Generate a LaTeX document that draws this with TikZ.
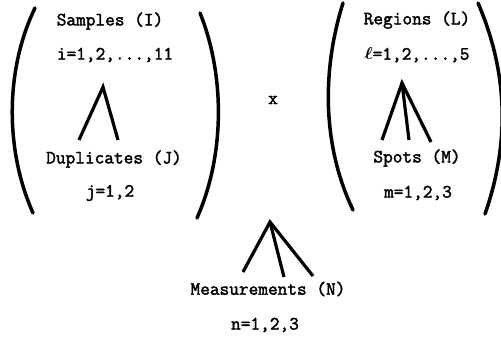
\documentclass[tikz,border=0pt]{standalone}
\usepackage{bm}
\usepackage{fontspec}
\setmonofont[FakeBold=2]{Latin Modern Mono}
\begin{document}
\begin{tikzpicture}[x=1pt,y=-1pt,
    lbl/.style={font=\ttfamily\fontsize{18.8}{22}\selectfont, inner sep=0pt},
    bracket/.style={line width=3.5pt, line cap=round},
    leg/.style={line width=3.2pt}]
  \useasboundingbox (0,0) rectangle (501,337);
  % Primer factor: muestras y duplicados.
  \draw[bracket] (35,8) .. controls (5,70) and (5,150) .. (33,213);
  \draw[bracket] (200,13) .. controls (225,75) and (225,155) .. (197,218);
  \node[lbl] (samples) at (110,21) {Samples (I)};
  \node[lbl] (sampidx) at (115,55) {i=1,2,...,11};
  \coordinate (sampapex) at (103,87);
  \coordinate (dupa) at (79,140);
  \coordinate (dupb) at (118,140);
  \draw[leg] (dupa) -- (sampapex) -- (dupb);
  \node[lbl] (duplicates) at (114,159) {Duplicates (J)};
  \node[lbl] (dupidx) at (110,193) {j=1,2};
  % El producto.
  \node[lbl] (times) at (273,100) {x};
  % Segundo factor: regiones y manchas.
  \draw[bracket] (343,3) .. controls (322,70) and (322,145) .. (353,210);
  \draw[bracket] (478,3) .. controls (509,75) and (509,145) .. (485,214);
  \node[lbl] (regions) at (417,20) {Regions (L)};
  \node[lbl] (regidx) at (417,55) {$\bm{\ell}$=1,2,...,5};
  \coordinate (regapex) at (402,83);
  \coordinate (spota) at (382,140);
  \coordinate (spotb) at (409,140);
  \coordinate (spotc) at (431,142);
  \draw[leg] (spota) -- (regapex) -- (spotc);
  \draw[leg] (regapex) -- (spotb);
  \node[lbl] (spots) at (417,158) {Spots (M)};
  \node[lbl] (spotidx) at (418,193) {m=1,2,3};
  % Mediciones debajo del producto.
  \coordinate (measapex) at (270,222);
  \coordinate (measa) at (243,272);
  \coordinate (measb) at (284,277);
  \coordinate (measc) at (313,276);
  \draw[leg] (measa) -- (measapex) -- (measc);
  \draw[leg] (measapex) -- (measb);
  \node[lbl] (measurements) at (268,289) {Measurements (N)};
  \node[lbl] (measidx) at (265,325) {n=1,2,3};
\end{tikzpicture}
\end{document}
